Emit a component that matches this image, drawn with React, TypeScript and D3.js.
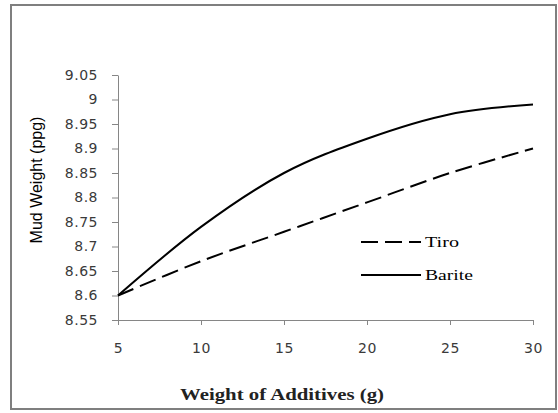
import React, { useRef, useEffect } from "react";
import * as d3 from "d3";

// values
const additives = [5, 10, 15, 20, 25, 30];
const tiro = [8.6, 8.67, 8.73, 8.79, 8.85, 8.9];
const barite = [8.6, 8.74, 8.85, 8.92, 8.97, 8.99];
const xTicks = [5, 10, 15, 20, 25, 30];
const yTicks = [8.55, 8.6, 8.65, 8.7, 8.75, 8.8, 8.85, 8.9, 8.95, 9, 9.05];
const seriesNames = ["Tiro", "Barite"];

const W = 558;
const H = 413;

const App = () => {
    const svgRef = useRef<SVGSVGElement>(null);

    useEffect(() => {
        const svg = d3.select(svgRef.current);
        svg.selectAll("*").remove();

        const margin = { top: 75, right: 25, bottom: 93, left: 118 };

        const x = d3.scaleLinear()
            .domain([5, 30])
            .range([margin.left, W - margin.right]);

        const y = d3.scaleLinear()
            .domain([8.55, 9.05])
            .range([H - margin.bottom, margin.top]);

        // background + grey frame
        svg.append("rect")
            .attr("width", W)
            .attr("height", H)
            .attr("fill", "#ffffff");
        svg.append("rect")
            .attr("x", 11)
            .attr("y", 5)
            .attr("width", 545)
            .attr("height", 404)
            .attr("fill", "none")
            .attr("stroke", "#7f7f7f")
            .attr("stroke-width", 2);

        // axes
        const xAxis = svg.append("g")
            .attr("transform", `translate(0,${H - margin.bottom})`)
            .call(d3.axisBottom(x).tickValues(xTicks).tickSize(5).tickSizeOuter(0).tickPadding(18));

        const yAxis = svg.append("g")
            .attr("transform", `translate(${margin.left},0)`)
            .call(d3.axisLeft(y).tickValues(yTicks).tickFormat(d3.format(".2~f")).tickSize(6).tickSizeOuter(0).tickPadding(14));

        [xAxis, yAxis].forEach(g => {
            g.select(".domain").attr("stroke", "#868686");
            g.selectAll(".tick line").attr("stroke", "#868686");
            g.selectAll("text")
                .attr("fill", "#3a3a3a")
                .style("font-family", "'DejaVu Sans', sans-serif")
                .style("font-size", "14px")
                .style("letter-spacing", "0.5px");
        });

        // lines
        const line = d3.line<number>()
            .x((_, i) => x(additives[i]))
            .y(d => y(d))
            .curve(d3.curveCardinal.tension(0));

        svg.append("path")
            .datum(tiro)
            .attr("d", line)
            .attr("fill", "none")
            .attr("stroke", "#000")
            .attr("stroke-width", 2)
            .attr("stroke-dasharray", "17,7");

        svg.append("path")
            .datum(barite)
            .attr("d", line)
            .attr("fill", "none")
            .attr("stroke", "#000")
            .attr("stroke-width", 2);

        // legend
        const legendY = [242, 275];
        seriesNames.forEach((name, i) => {
            svg.append("line")
                .attr("x1", 361)
                .attr("x2", 421)
                .attr("y1", legendY[i])
                .attr("y2", legendY[i])
                .attr("stroke", "#000")
                .attr("stroke-width", 2)
                .attr("stroke-dasharray", i === 0 ? "17,7" : null);
            svg.append("text")
                .attr("x", 425)
                .attr("y", legendY[i])
                .attr("dy", "0.35em")
                .attr("textLength", i === 0 ? 34 : 48)
                .attr("lengthAdjust", "spacingAndGlyphs")
                .style("font-family", "'Liberation Serif', serif")
                .style("font-size", "15px")
                .attr("fill", "#000")
                .text(name);
        });

        // axis titles
        svg.append("text")
            .attr("transform", "translate(36,180) rotate(-90)")
            .attr("text-anchor", "middle")
            .attr("dy", "0.35em")
            .style("font-family", "'Liberation Sans', sans-serif")
            .style("font-size", "16px")
            .attr("fill", "#000")
            .text("Mud Weight (ppg)");

        svg.append("text")
            .attr("x", 180)
            .attr("y", 394)
            .attr("dy", "0.35em")
            .attr("textLength", 204)
            .attr("lengthAdjust", "spacingAndGlyphs")
            .style("font-family", "'Liberation Serif', serif")
            .style("font-size", "16px")
            .style("font-weight", "bold")
            .attr("fill", "#222")
            .text("Weight of Additives (g)");
    }, []);

    return (
        <div style={{ position: "absolute", left: 0, top: 0 }}>
            <svg ref={svgRef} width={W} height={H} style={{ display: "block" }}></svg>
        </div>
    );
};

export default App;
